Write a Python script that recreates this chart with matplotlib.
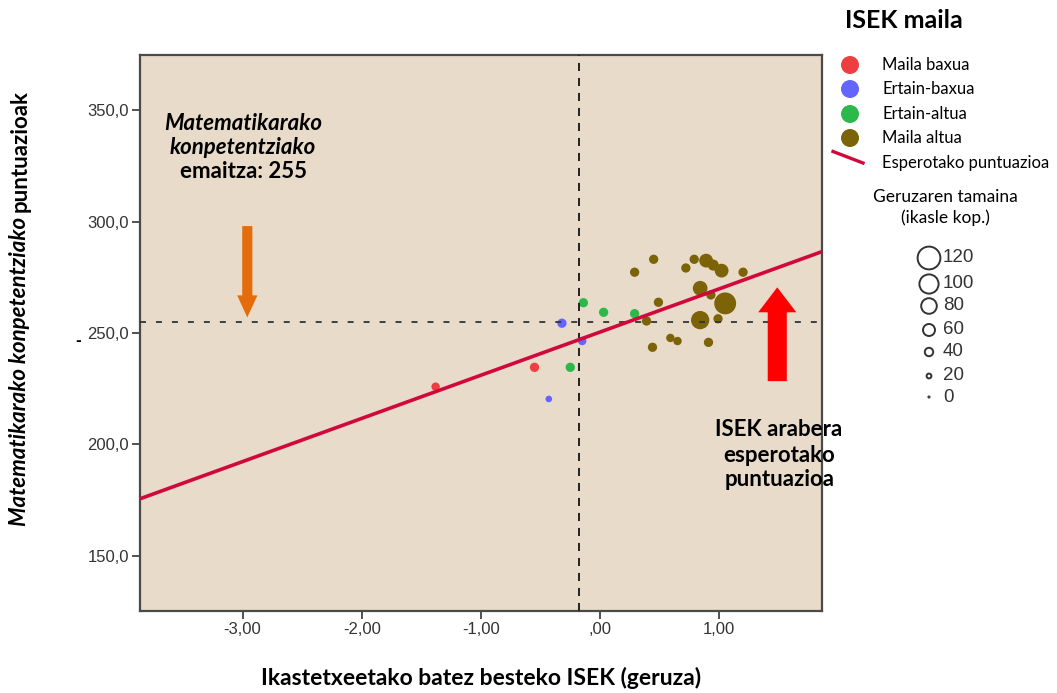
import numpy as np
import matplotlib.pyplot as plt
from matplotlib.lines import Line2D

plt.rcParams['lines.scale_dashes'] = False

# --- datuak ---
levels = ['Maila baxua', 'Ertain-baxua', 'Ertain-altua', 'Maila altua']
level_colors = ['#EF3E42', '#6464FF', '#2DB84C', '#7D6308']

isek = [-1.38, -0.55,
        -0.32, -0.15, -0.43,
        -0.25, -0.14, 0.03, 0.29,
        0.39, 0.44, 0.49, 0.45, 0.29, 0.59, 0.65, 0.72, 0.79, 0.89,
        0.95, 1.02, 1.20, 0.84, 0.93, 1.05, 0.84, 0.99, 0.91]
score = [225.9, 234.6,
         254.4, 246.4, 220.4,
         234.6, 263.6, 259.3, 258.7,
         255.4, 243.6, 263.8, 283.1, 277.3, 247.8, 246.4, 279.2, 283.1, 282.5,
         280.5, 278.0, 277.3, 270.1, 267.1, 263.3, 255.8, 256.4, 245.8]
students = [40, 45,
            45, 40, 30,
            45, 45, 45, 45,
            45, 45, 45, 45, 45, 40, 40, 45, 45, 70,
            55, 70, 45, 75, 45, 115, 95, 45, 45]
level_idx = [0, 0,
             1, 1, 1,
             2, 2, 2, 2,
             3, 3, 3, 3, 3, 3, 3, 3, 3, 3,
             3, 3, 3, 3, 3, 3, 3, 3, 3]

fit_x = [-3.86, 1.86]
fit_y = [175.6, 286.5]
mean_isek = -0.18
target_score = 255

size_legend = [120, 100, 80, 60, 40, 20, 0]


def marker_area(n):
    # ikasle kopurua -> puntuaren azalera (pt^2)
    r_px = 0.6 + 0.09 * np.asarray(n, dtype=float)
    return (2 * r_px * 0.72) ** 2


fig = plt.figure(figsize=(10.57, 6.93), dpi=100)
ax = fig.add_axes([0.1325, 0.1183, 0.6449, 0.8023])
ax.set_facecolor('#E8DBC9')

cols = [level_colors[i] for i in level_idx]
ax.scatter(isek, score, s=marker_area(students), c=cols, linewidths=0, zorder=2)

ax.plot(fit_x, fit_y, color='#D1083C', lw=2.6, zorder=4, solid_capstyle='butt')
ax.axhline(target_score, color='#333333', lw=1.3, dashes=(4.3, 7.2), zorder=3)
ax.axvline(mean_isek, color='#222222', lw=1.4, dashes=(5.8, 5.0), zorder=3)

# geziak
ax.arrow(-2.96, 298, 0, 257 - 298, width=0.085, head_width=0.17, head_length=9.9,
         length_includes_head=True, color='#E46C0A', lw=0, zorder=5)
ax.arrow(1.487, 228.4, 0, 270.5 - 228.4, width=0.16, head_width=0.32, head_length=11.2,
         length_includes_head=True, color='#FF0000', lw=0, zorder=5)

ax.set_xlim(-3.86, 1.86)
ax.set_ylim(125.2, 374.8)
ax.set_xticks([-3, -2, -1, 0, 1])
ax.set_xticklabels(['-3,00', '-2,00', '-1,00', ',00', '1,00'])
ax.set_yticks([150, 200, 250, 300, 350])
ax.set_yticklabels(['150,0', '200,0', '250,0', '300,0', '350,0'])
ax.tick_params(length=6, width=1.2, color='#333333', labelcolor='#333333',
               labelsize=12, pad=2)
for lab in ax.get_xticklabels() + ax.get_yticklabels():
    lab.set_family('Liberation Sans')
for sp in ax.spines.values():
    sp.set_color('#4a4a4a')
    sp.set_linewidth(1.6)

# pixel koordenatuetako geruza testuetarako
lax = fig.add_axes([0, 0, 1, 1], facecolor='none')
lax.set_xlim(0, 1057)
lax.set_ylim(693, 0)
lax.axis('off')

bold = dict(ha='center', va='center', fontsize=16, fontweight='bold', family='Lato')
lax.text(243, 123, 'Matematikarako', style='italic', **bold)
lax.text(243, 148, 'konpetentziako', style='italic', **bold)
lax.text(243, 171, 'emaitza: 255', **bold)
lax.text(779, 429, 'ISEK arabera', **bold)
lax.text(779, 455, 'esperotako', **bold)
lax.text(780, 479, 'puntuazioa', **bold)

# ardatzen izenburuak
lax.text(481, 678, 'Ikastetxeetako batez besteko ISEK (geruza)', ha='center',
         va='center', fontsize=16.5, fontweight='bold', family='Lato')
lax.text(20, 526, 'Matematikarako konpetentziako', rotation=90, ha='center',
         va='bottom', fontsize=16, fontweight='bold', style='italic', family='Lato')
lax.text(20, 90, 'puntuazioak', rotation=90, ha='center', va='top',
         fontsize=16, fontweight='bold', family='Lato')
lax.text(78, 341, '-', ha='center', va='center', fontsize=10, fontweight='bold')

# legenda
lax.text(904, 20, 'ISEK maila', ha='center', va='center', fontsize=18,
         fontweight='bold', family='Lato')
leg_y = [65, 89, 114, 138]
lax.scatter([850] * 4, leg_y, s=(18 * 0.72) ** 2, c=level_colors, linewidths=0)
for yy, name in zip(leg_y + [163], levels + ['Esperotako puntuazioa']):
    lax.text(882, yy, name, ha='left', va='center', fontsize=12, family='Lato')
lax.add_line(Line2D([833, 863], [151.5, 163], color='#D1083C', lw=2.4))

lax.text(945, 197, 'Geruzaren tamaina', ha='center', va='center', fontsize=12.5,
         family='Lato')
lax.text(945, 218, '(ikasle kop.)', ha='center', va='center', fontsize=12.5,
         family='Lato')
size_y = [258, 284, 306, 330, 352, 376, 397]
for yy, n in zip(size_y, size_legend):
    lax.scatter([929], [yy], s=marker_area(n), facecolors='none',
                edgecolors='#333333', linewidths=1.4)
    lax.text(943, yy, str(n), ha='left', va='center', fontsize=13.5,
             family='Liberation Sans', color='#333333')

fig.savefig('out.png', dpi=100)
